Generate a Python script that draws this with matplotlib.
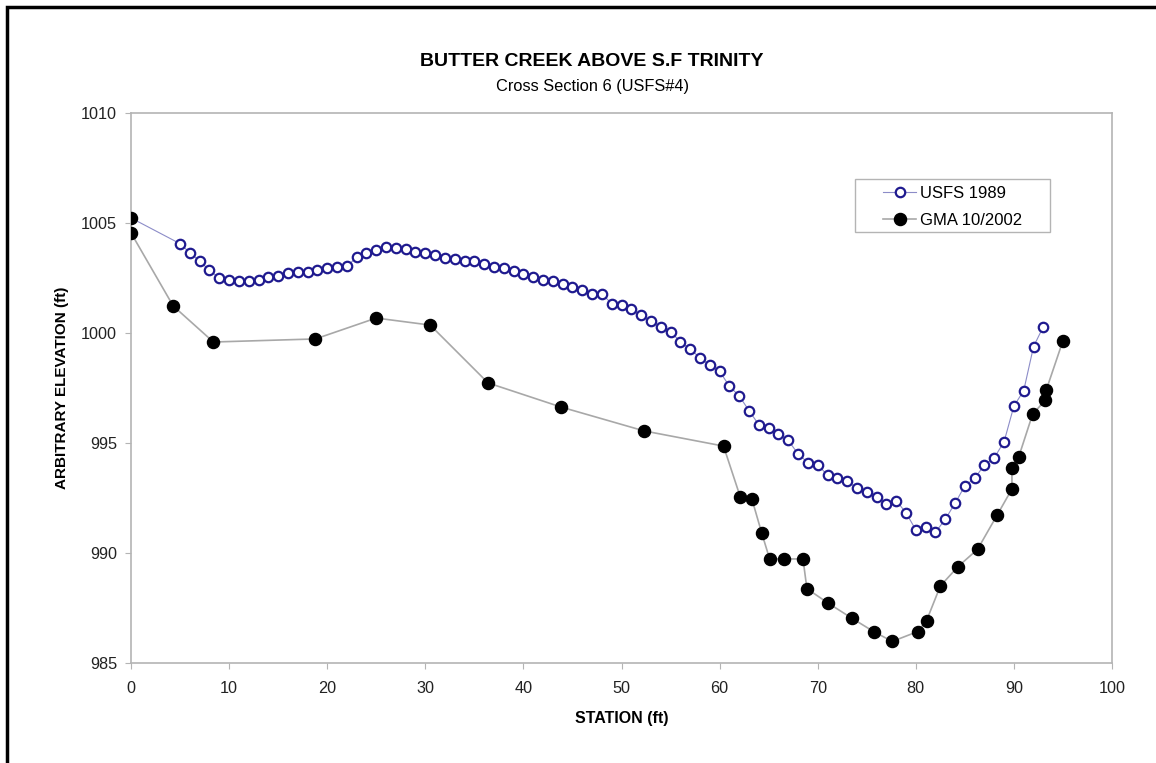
import numpy as np
import matplotlib.pyplot as plt
from matplotlib.patches import Rectangle

plt.rcParams['font.family'] = ['Liberation Sans', 'DejaVu Sans']

# USFS 1989 survey (station ft, elevation ft)
usfs_station = [0] + list(range(5, 94))
usfs_elev = [1005.23,
             1004.06, 1003.65, 1003.27, 1002.85, 1002.50, 1002.39, 1002.36, 1002.35, 1002.41, 1002.53,
             1002.61, 1002.71, 1002.79, 1002.77, 1002.85, 1002.95, 1002.98, 1003.03, 1003.44, 1003.62,
             1003.77, 1003.93, 1003.85, 1003.80, 1003.70, 1003.65, 1003.53, 1003.39, 1003.36, 1003.29,
             1003.26, 1003.15, 1003.00, 1002.97, 1002.83, 1002.67, 1002.56, 1002.41, 1002.35, 1002.21,
             1002.11, 1001.94, 1001.76, 1001.77, 1001.34, 1001.26, 1001.08, 1000.80, 1000.55, 1000.29,
             1000.05, 999.61, 999.26, 998.88, 998.53, 998.26, 997.58, 997.14, 996.47, 995.83,
             995.67, 995.40, 995.12, 994.50, 994.11, 994.02, 993.53, 993.41, 993.27, 992.94,
             992.76, 992.55, 992.24, 992.38, 991.83, 991.05, 991.18, 990.94, 991.53, 992.26,
             993.05, 993.40, 994.00, 994.33, 995.06, 996.68, 997.38, 999.38, 1000.29]

# GMA 10/2002 survey
gma_station = [0, 0, 4.3, 8.4, 18.8, 25.0, 30.5, 36.4, 43.8, 52.3, 60.4, 62.1, 63.3, 64.3,
               65.1, 66.6, 68.5, 68.9, 71.0, 73.5, 75.7, 77.6, 80.2, 81.1, 82.5, 84.3, 86.3,
               88.3, 89.8, 89.8, 90.5, 91.9, 93.2, 93.3, 95.0]
gma_elev = [1005.23, 1004.55, 1001.23, 999.59, 999.73, 1000.68, 1000.36, 997.73, 996.64, 995.55,
            994.86, 992.56, 992.44, 990.90, 989.73, 989.73, 989.73, 988.38, 987.74, 987.03,
            986.43, 985.98, 986.43, 986.93, 988.50, 989.38, 990.17, 991.73, 992.91, 993.85,
            994.38, 996.30, 996.95, 997.41, 999.65]

W, H = 1156, 763
fig = plt.figure(figsize=(W / 100, H / 100), dpi=100)
ax = fig.add_axes([131/W, 1 - 663/H, (1112 - 131)/W, (663 - 113)/H])

ax.plot(usfs_station, usfs_elev, color='#8c8cc8', lw=0.8, marker='o', ms=6.8,
        mfc='white', mec='#1f1a8f', mew=1.6, label='USFS 1989', zorder=3)
ax.plot(gma_station, gma_elev, color='#a8a8a8', lw=1.2, marker='o', ms=8.7,
        mfc='black', mec='black', label='GMA 10/2002', zorder=4)

ax.set_xlim(0, 100)
ax.set_ylim(985, 1010)
ax.set_xticks(np.arange(0, 101, 10))
ax.set_yticks(np.arange(985, 1011, 5))
for s in ax.spines.values():
    s.set_color('#b4b4b4')
    s.set_linewidth(1.2)
ax.tick_params(direction='out', length=4, color='#b4b4b4', labelsize=11.7,
               labelcolor='#222222')
ax.tick_params(axis='x', pad=9)
ax.tick_params(axis='y', pad=6)

ax.set_xlabel('STATION (ft)', fontsize=11.5, fontweight='bold', labelpad=11)
ax.set_ylabel('ARBITRARY ELEVATION (ft)', fontsize=11, fontweight='bold', labelpad=9)

fig.text(592/W, 1 - 61/H, 'BUTTER CREEK ABOVE S.F TRINITY', ha='center', va='center',
         fontsize=14, fontweight='bold')
fig.text(592/W, 1 - 87/H, 'Cross Section 6 (USFS#4)', ha='center', va='center',
         fontsize=11.8)

leg = ax.legend(loc='upper left', bbox_to_anchor=(883/W, 1 - 186/H),
                bbox_transform=fig.transFigure, borderaxespad=0, borderpad=0,
                frameon=False, fontsize=12, handlelength=2.0, handletextpad=0.2,
                labelspacing=0.72)

# legend box
fig.patches.append(Rectangle((855/W, 1 - 232/H), (1050 - 855)/W, (232 - 179)/H,
                             transform=fig.transFigure, fill=False, ec='#b4b4b4', lw=1.0))

# outer chart border (cut off at right and bottom in the source image)
fig.patches.append(Rectangle((7/W, -0.5), 2.0, (1 - 7/H) + 0.5,
                             transform=fig.transFigure, fill=False, ec='black', lw=2.5))

fig.savefig('out.png', dpi=100)
